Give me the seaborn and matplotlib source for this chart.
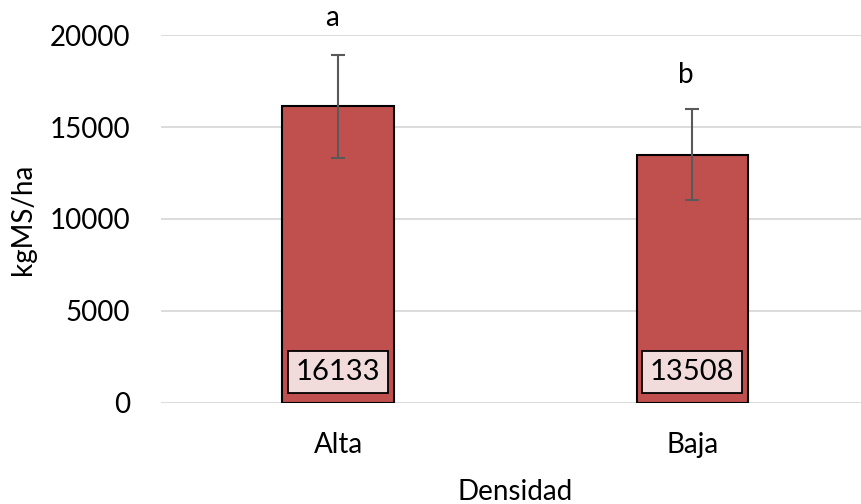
import matplotlib
matplotlib.use("Agg")
from matplotlib import pyplot as plt
import seaborn as sns
import pandas as pd

# data
densidad = ["Alta", "Baja"]
rendimiento = [16133, 13508]
error = [2800, 2490]
letras = ["a", "b"]
letra_y = [20950, 17850]
yticks = [0, 5000, 10000, 15000, 20000]

df = pd.DataFrame({"Densidad": densidad, "kgMS/ha": rendimiento})

sns.set_style("white", {"text.color": "black", "axes.labelcolor": "black",
                        "xtick.color": "black", "ytick.color": "black"})
plt.rcParams["font.family"] = ["Lato", "DejaVu Sans"]

fig = plt.figure(figsize=(8.61, 5.04), dpi=100)
ax = fig.add_axes([0.187, 0.201, 0.813, 0.729])

sns.barplot(data=df, x="Densidad", y="kgMS/ha", color="#C0504D", saturation=1,
            edgecolor="black", linewidth=1.5, width=0.314, errorbar=None, ax=ax, zorder=3)

ax.errorbar(range(len(densidad)), rendimiento, yerr=error, fmt="none",
            ecolor="#595959", elinewidth=1.5, capsize=5, capthick=1.5, zorder=4)

for i, (val, let, ly) in enumerate(zip(rendimiento, letras, letra_y)):
    ax.text(i - 0.017, ly, let, ha="center", va="center", fontsize=20, clip_on=False)
    ax.text(i, 1690, str(val), ha="center", va="center", fontsize=21, zorder=5,
            bbox=dict(boxstyle="square,pad=0.27", facecolor="#F2DCDB", edgecolor="black", linewidth=1.3))

ax.set_ylim(0, 20000)
ax.set_xlim(-0.5, 1.477)
ax.set_yticks(yticks)
ax.grid(axis="y", color="#D9D9D9", linewidth=1.3, zorder=0)
ax.set_axisbelow(True)
for s in ax.spines.values():
    s.set_visible(False)
ax.tick_params(axis="both", length=0, labelsize=20)
ax.tick_params(axis="y", pad=22)
ax.tick_params(axis="x", pad=21)

ax.set_xlabel("Densidad", fontsize=20)
ax.set_ylabel("kgMS/ha", fontsize=20)
ax.xaxis.set_label_coords(0.506, -0.242)
ax.xaxis.label.set_va("center")
ax.yaxis.set_label_coords(-0.197, 0.5)
ax.yaxis.label.set_va("center")

fig.savefig("out.png", dpi=100)
